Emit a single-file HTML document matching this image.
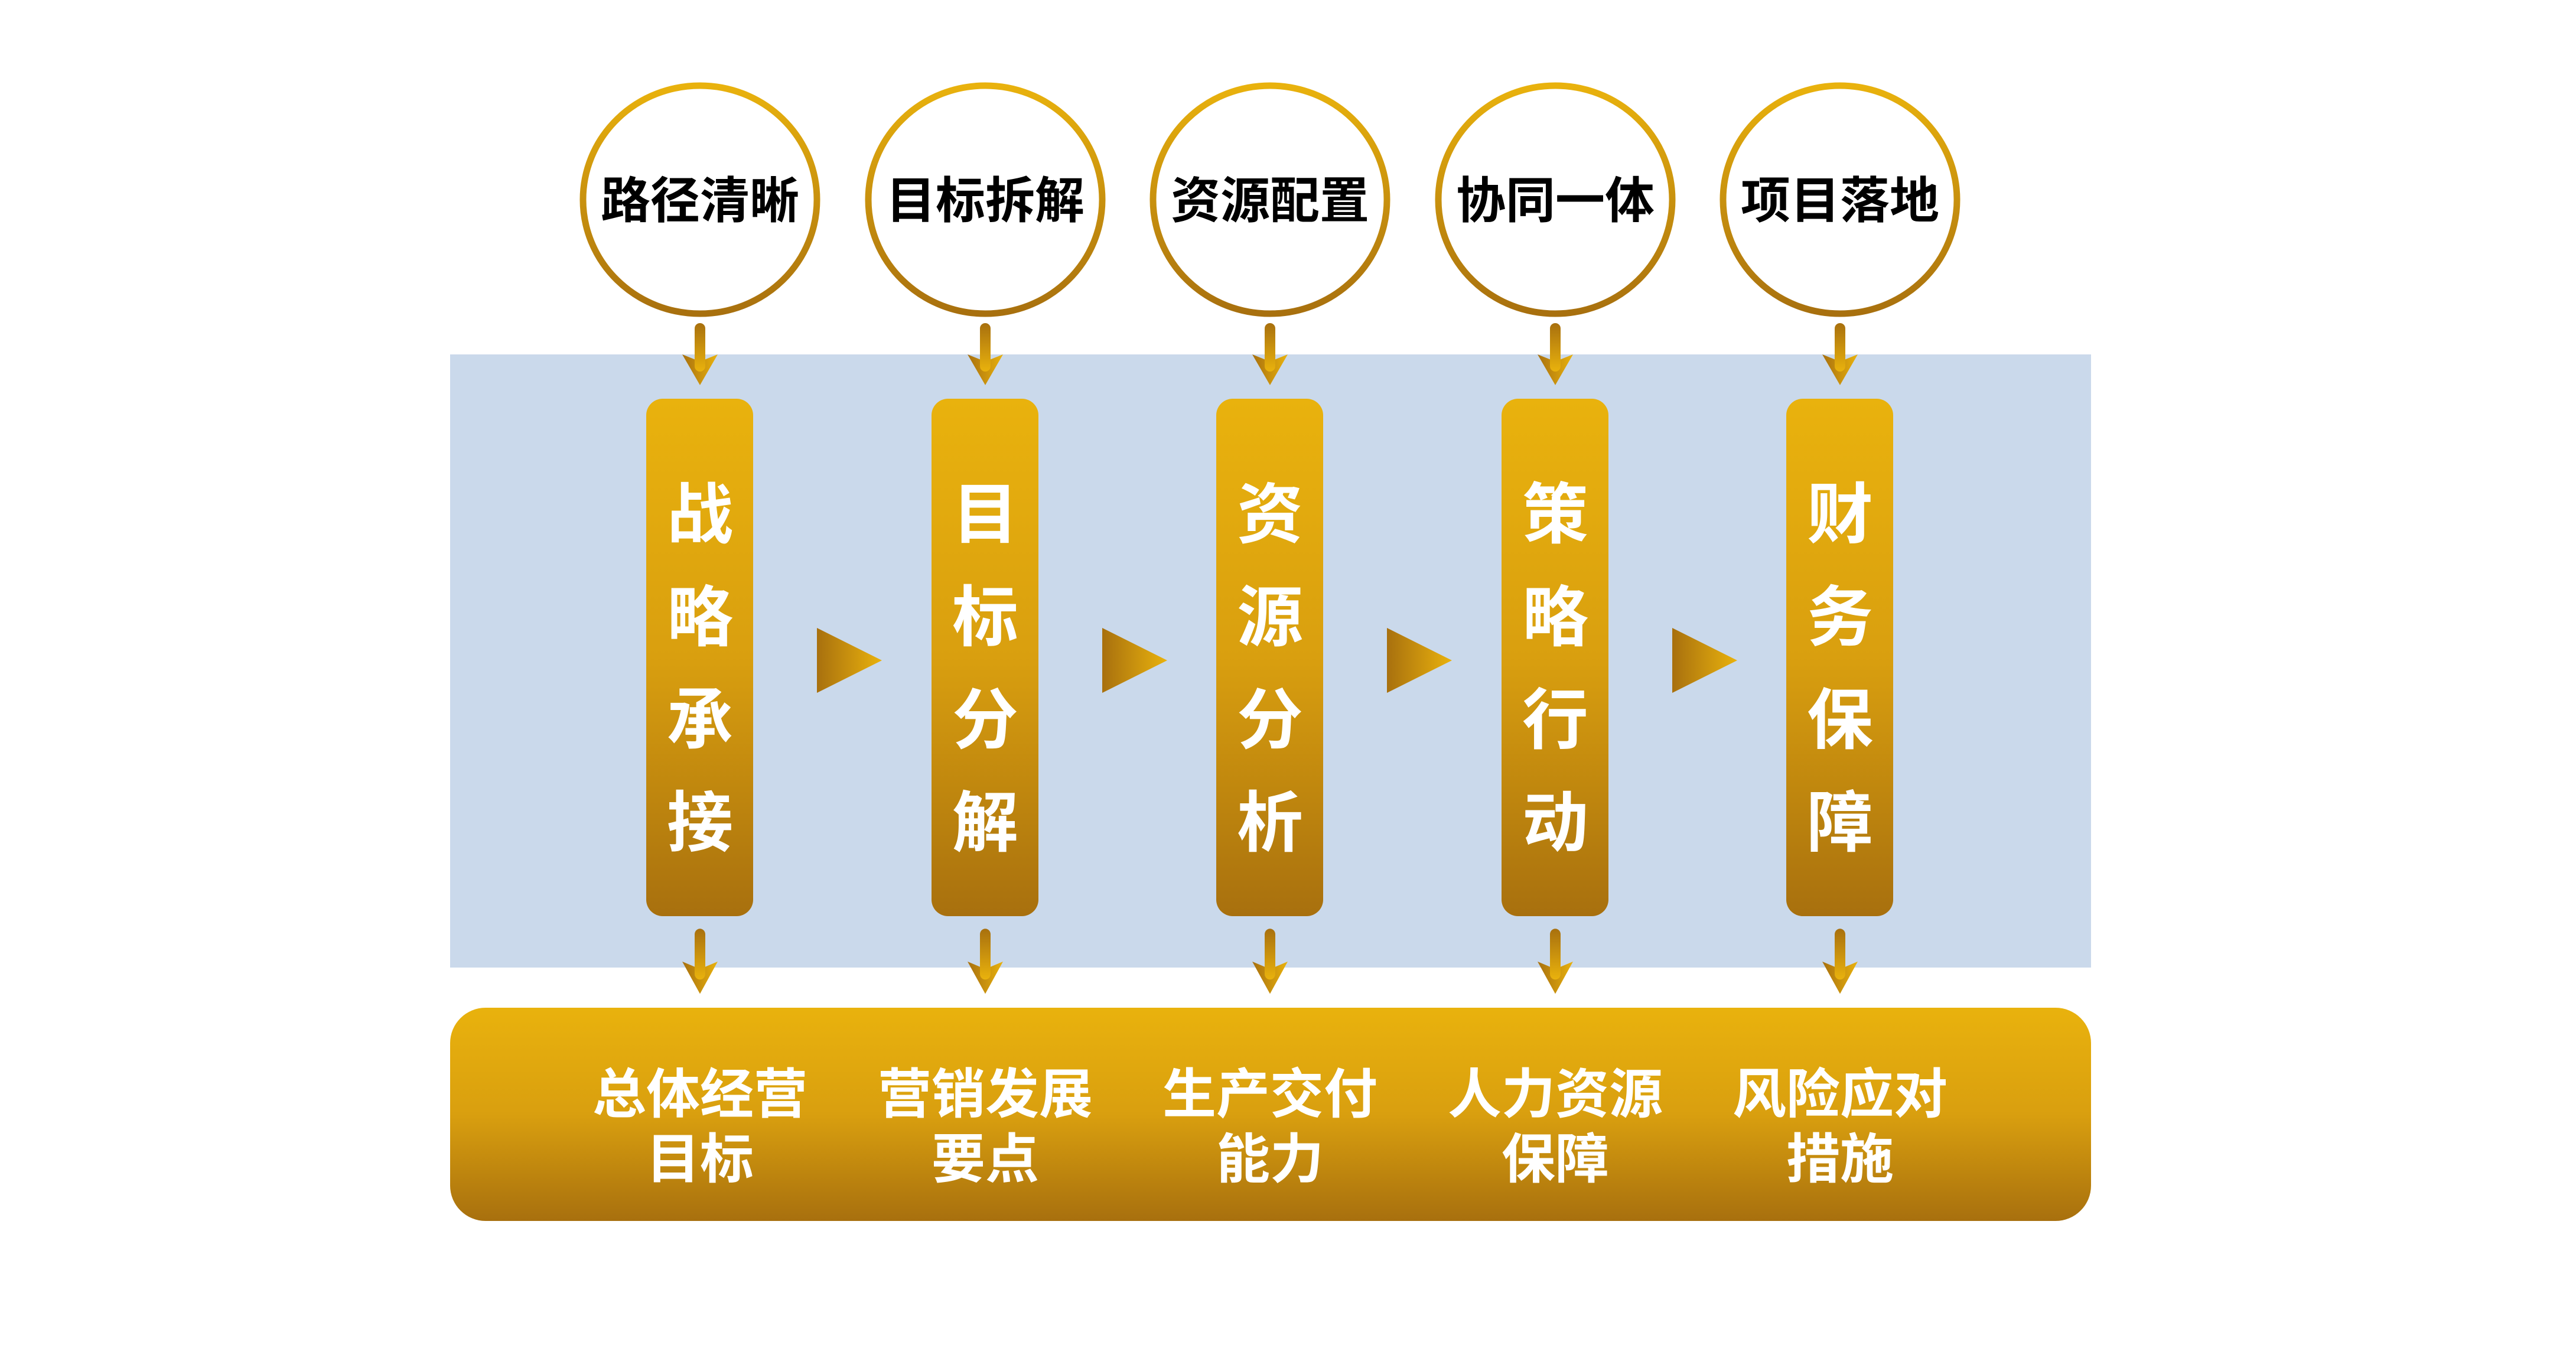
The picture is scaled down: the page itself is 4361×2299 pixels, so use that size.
<!DOCTYPE html>
<html><head><meta charset="utf-8"><style>
html,body{margin:0;padding:0;background:#fff}
svg{display:block}
text{font-family:"Liberation Sans","Noto Sans CJK SC",sans-serif;font-weight:bold}
</style></head><body>
<svg width="4361" height="2299" viewBox="0 0 4361 2299" xmlns="http://www.w3.org/2000/svg">
<defs>
<linearGradient id="g" x1="0" y1="0" x2="0" y2="1"><stop offset="0" stop-color="#E9B20D"/><stop offset="0.5" stop-color="#D99F0F"/><stop offset="1" stop-color="#A8700E"/></linearGradient>
<linearGradient id="gc" x1="0" y1="0" x2="0" y2="1"><stop offset="0" stop-color="#E9B20D"/><stop offset="1" stop-color="#A8700E"/></linearGradient>
<linearGradient id="gt" x1="0" y1="0" x2="1" y2="0"><stop offset="0" stop-color="#A8700E"/><stop offset="1" stop-color="#E9B20D"/></linearGradient>
<linearGradient id="ga" x1="0" y1="0" x2="0" y2="1"><stop offset="0" stop-color="#A8700E"/><stop offset="1" stop-color="#E9B20D"/></linearGradient>
<g id="arr">
<path d="M-30,-2 L0,10 L30,-2 L0,50 Z" fill="url(#gt)"/>
<rect x="-9" y="-55" width="18" height="82" rx="9" fill="url(#ga)"/>
</g>
</defs>
<rect x="762" y="600" width="2778" height="1038" fill="#CAD9EB"/>
<rect x="762" y="1706" width="2778" height="361" rx="60" fill="url(#g)"/>

<g fill="#fff" stroke="url(#gc)" stroke-width="11">
<ellipse cx="1185" cy="338" rx="198" ry="193"/>
<ellipse cx="1668" cy="338" rx="198" ry="193"/>
<ellipse cx="2150" cy="338" rx="198" ry="193"/>
<ellipse cx="2633" cy="338" rx="198" ry="193"/>
<ellipse cx="3115" cy="338" rx="198" ry="193"/>
</g>
<g font-size="84" fill="#000" text-anchor="middle">
<text x="1185" y="369">路径清晰</text>
<text x="1668" y="369">目标拆解</text>
<text x="2150" y="369">资源配置</text>
<text x="2633" y="369">协同一体</text>
<text x="3115" y="369">项目落地</text>
</g>

<use href="#arr" x="1185" y="602"/><use href="#arr" x="1668" y="602"/><use href="#arr" x="2150" y="602"/><use href="#arr" x="2633" y="602"/><use href="#arr" x="3115" y="602"/>
<use href="#arr" transform="translate(1185,1630) scale(1,1.05)"/><use href="#arr" transform="translate(1668,1630) scale(1,1.05)"/><use href="#arr" transform="translate(2150,1630) scale(1,1.05)"/><use href="#arr" transform="translate(2633,1630) scale(1,1.05)"/><use href="#arr" transform="translate(3115,1630) scale(1,1.05)"/>

<g fill="url(#g)">
<rect x="1094" y="675" width="181" height="876" rx="28"/>
<rect x="1577" y="675" width="181" height="876" rx="28"/>
<rect x="2059" y="675" width="181" height="876" rx="28"/>
<rect x="2542" y="675" width="181" height="876" rx="28"/>
<rect x="3024" y="675" width="181" height="876" rx="28"/>
</g>
<g font-size="112" fill="#fff" text-anchor="middle">
<text x="1185" y="910">战</text><text x="1185" y="1084">略</text><text x="1185" y="1258">承</text><text x="1185" y="1432">接</text>
<text x="1668" y="910">目</text><text x="1668" y="1084">标</text><text x="1668" y="1258">分</text><text x="1668" y="1432">解</text>
<text x="2150" y="910">资</text><text x="2150" y="1084">源</text><text x="2150" y="1258">分</text><text x="2150" y="1432">析</text>
<text x="2633" y="910">策</text><text x="2633" y="1084">略</text><text x="2633" y="1258">行</text><text x="2633" y="1432">动</text>
<text x="3115" y="910">财</text><text x="3115" y="1084">务</text><text x="3115" y="1258">保</text><text x="3115" y="1432">障</text>
</g>

<g fill="url(#gt)">
<path d="M1383,1063 L1493,1118 L1383,1173 Z"/>
<path d="M1866,1063 L1976,1118 L1866,1173 Z"/>
<path d="M2348,1063 L2458,1118 L2348,1173 Z"/>
<path d="M2831,1063 L2941,1118 L2831,1173 Z"/>
</g>

<g font-size="91" fill="#fff" text-anchor="middle">
<text x="1185" y="1884">总体经营</text><text x="1185" y="1994">目标</text>
<text x="1668" y="1884">营销发展</text><text x="1668" y="1994">要点</text>
<text x="2150" y="1884">生产交付</text><text x="2150" y="1994">能力</text>
<text x="2633" y="1884">人力资源</text><text x="2633" y="1994">保障</text>
<text x="3115" y="1884">风险应对</text><text x="3115" y="1994">措施</text>
</g>
</svg>
</body></html>
